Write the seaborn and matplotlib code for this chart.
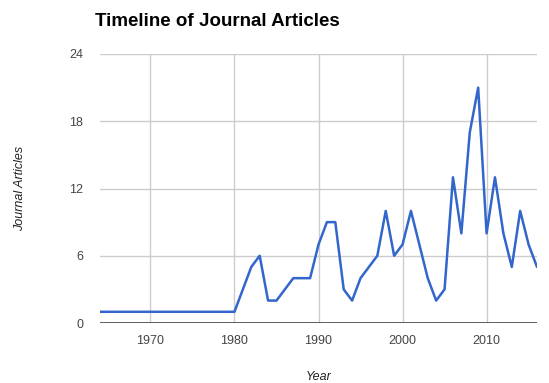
import matplotlib
matplotlib.use("Agg")
import matplotlib.pyplot as plt
import seaborn as sns
import pandas as pd

years = list(range(1964, 2017))
articles = (
    [1] * 17                                   # 1964-1980
    + [3, 5, 6, 2, 2, 3, 4, 4, 4]              # 1981-1989
    + [7, 9, 9, 3, 2, 4, 5, 6, 10, 6]          # 1990-1999
    + [7, 10, 7, 4, 2, 3, 13, 8, 17, 21]       # 2000-2009
    + [8, 13, 8, 5, 10, 7, 5]                  # 2010-2016
)
x_ticks = [1970, 1980, 1990, 2000, 2010]
y_ticks = [0, 6, 12, 18, 24]

df = pd.DataFrame({"Year": years, "Journal Articles": articles})

sns.set_theme(style="white")
plt.rcParams["font.family"] = ["Liberation Sans", "DejaVu Sans"]

fig = plt.figure(figsize=(5.49, 3.83), dpi=100)
ax = fig.add_axes([100 / 549, 1 - 323 / 383, 437 / 549, 269 / 383])

sns.lineplot(data=df, x="Year", y="Journal Articles", ax=ax,
             color="#3366cc", linewidth=1.8, zorder=3)

ax.set_xlim(1964, 2016)
ax.set_ylim(0, 24)
ax.set_xticks(x_ticks)
ax.set_yticks(y_ticks)
ax.grid(True, color="#cccccc", linewidth=1.0)
ax.set_axisbelow(True)
for s in ax.spines.values():
    s.set_visible(False)
ax.axhline(0, color="#444444", linewidth=1.2, zorder=2)
ax.tick_params(axis="both", length=0, labelsize=9, labelcolor="#444444")
ax.tick_params(axis="x", pad=9)
ax.tick_params(axis="y", pad=12)

ax.set_xlabel("Year", fontsize=9, style="italic", color="#222222",
              va="center", ha="center")
ax.xaxis.set_label_coords(0.5, (323 - 377) / 269)
ax.set_ylabel("Journal Articles", fontsize=9, style="italic", color="#222222",
              va="center", ha="center")
ax.yaxis.set_label_coords((20 - 100) / 437, 0.5)

fig.text(95 / 549, 1 - 21 / 383, "Timeline of Journal Articles", fontsize=13.5,
         fontweight="bold", color="#000000", ha="left", va="center")

fig.savefig("out.png", dpi=100)
